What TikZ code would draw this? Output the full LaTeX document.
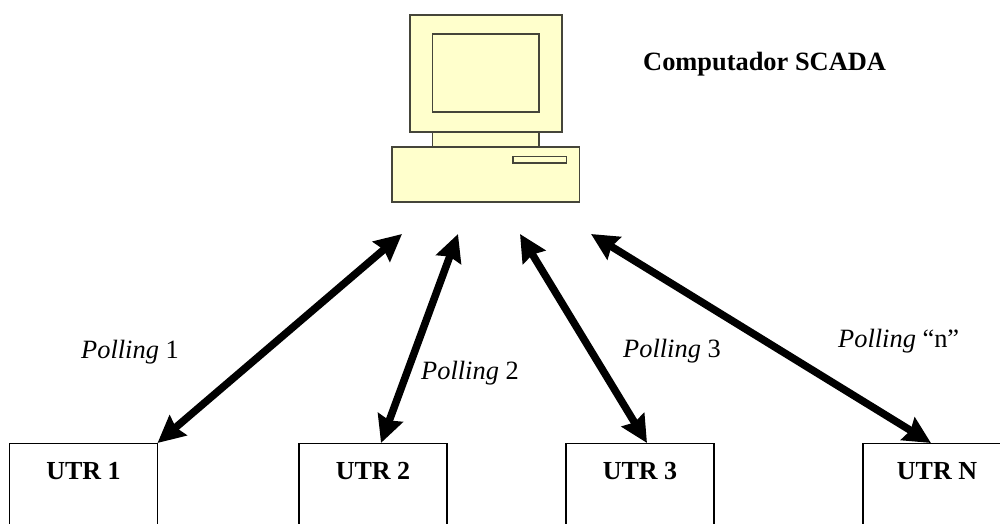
\documentclass[tikz,border=0pt]{standalone}
\usepackage{fontspec}
\setmainfont{Liberation Serif}
\usetikzlibrary{arrows.meta,calc}
\definecolor{pcyellow}{HTML}{FFFFCC}
\definecolor{pcline}{HTML}{45453A}
\tikzset{
  pcpart/.style={draw=pcline,fill=pcyellow,line width=1.05pt,rectangle,inner sep=0pt,outer sep=0pt,anchor=north west},
  utrbox/.style={draw=black,fill=white,line width=1.9pt,rectangle,inner sep=0pt,outer sep=0pt,anchor=north west,minimum width=148pt,minimum height=110pt},
  utrlabel/.style={font=\fontsize{26}{30}\selectfont\bfseries,inner sep=0pt,anchor=center},
  polllabel/.style={font=\fontsize{26.4}{30}\selectfont,inner sep=0pt,anchor=base west},
  titlelabel/.style={font=\fontsize{26.4}{30}\selectfont\bfseries,inner sep=0pt,anchor=base west},
  link/.style={line width=7.5pt,{Stealth[length=27pt,width=26pt,inset=3pt]}-{Stealth[length=27pt,width=26pt,inset=3pt]}}
}
\begin{document}
\begin{tikzpicture}[x=1pt,y=-1pt]
\useasboundingbox (0,0) rectangle (1000,524);
\clip (0,0) rectangle (1000,524);
\fill[white] (0,0) rectangle (1000,524);
% computer
\node[pcpart,minimum width=106.5pt,minimum height=20pt] (neck) at (432.5,130) {};
\node[pcpart,minimum width=152pt,minimum height=117pt] (monitor) at (410,15) {};
\node[pcpart,minimum width=106.5pt,minimum height=78pt] (screen) at (432.5,34) {};
\node[pcpart,minimum width=187.5pt,minimum height=55pt] (base) at (392,147) {};
\node[pcpart,minimum width=53.5pt,minimum height=6.5pt] (slot) at (513,156.5) {};
\node[titlelabel] (title) at (643,71) {Computador SCADA};
% UTR boxes
\node[utrbox] (utr1) at (9.5,443.5) {};
\node[utrbox] (utr2) at (299,443.5) {};
\node[utrbox] (utr3) at (566,443.5) {};
\node[utrbox] (utrn) at (863,443.5) {};
\node[utrlabel] (l1) at (83.5,471) {UTR 1};
\node[utrlabel] (l2) at (373,471) {UTR 2};
\node[utrlabel] (l3) at (640,471) {UTR 3};
\node[utrlabel] (ln) at (937,471) {UTR N};
% arrow ends
\coordinate (a1) at (402,234);
\coordinate (a2) at (458,234);
\coordinate (a3) at (520,234);
\coordinate (a4) at (591,234);
\coordinate (b1) at (157.5,443);
\coordinate (b2) at (381,443);
\coordinate (b3) at (647,443);
\coordinate (b4) at (931,443);
\draw[link] (b1) -- (a1);
\draw[link] (b2) -- (a2);
\draw[link] (b3) -- (a3);
\draw[link] (b4) -- (a4);
% labels
\node[polllabel] (p1) at (81,358) {\textit{Polling} 1};
\node[polllabel] (p2) at (421,379) {\textit{Polling} 2};
\node[polllabel] (p3) at (623,357) {\textit{Polling} 3};
\node[polllabel] (p4) at (838,347) {\textit{Polling} “n”};
\end{tikzpicture}
\end{document}
